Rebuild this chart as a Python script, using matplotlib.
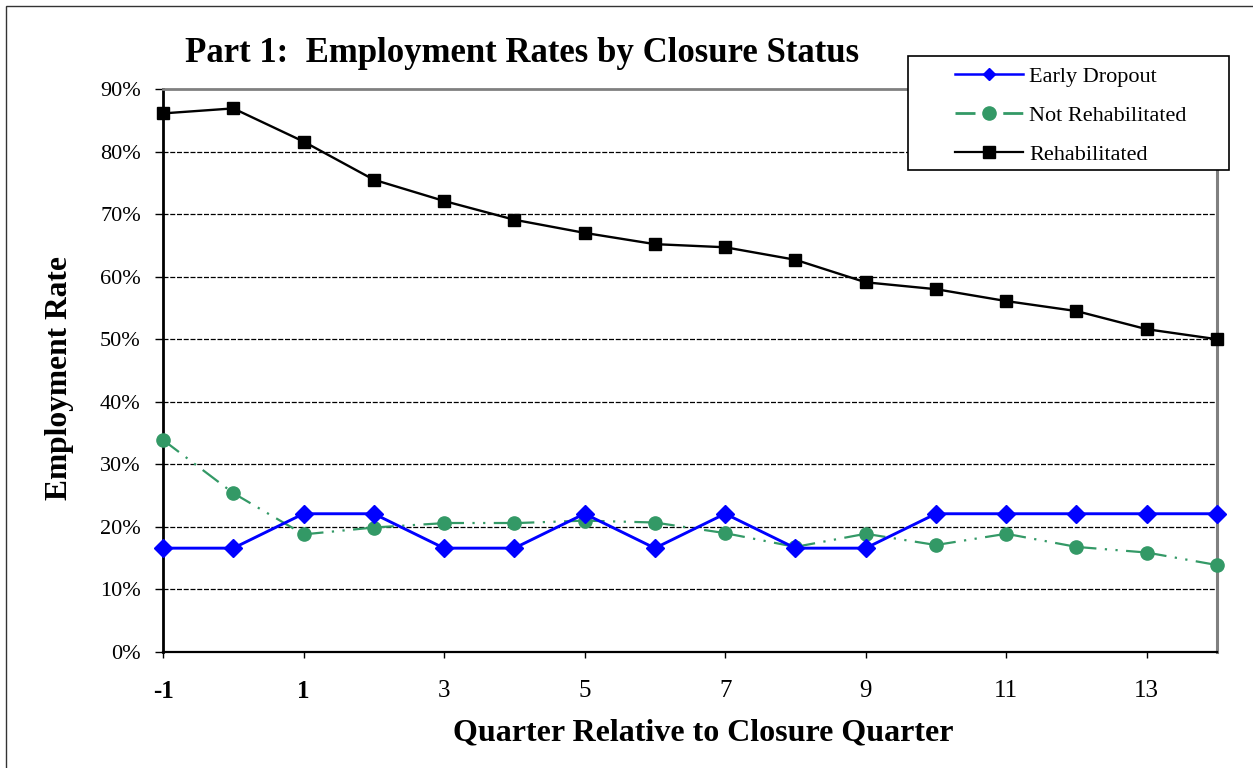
import matplotlib
matplotlib.use('Agg')
import matplotlib.pyplot as plt
from matplotlib.patches import Rectangle
from matplotlib.lines import Line2D

# Data (employment rate, %)
quarters = list(range(-1, 15))
early_dropout = [16.6, 16.6, 22.1, 22.1, 16.6, 16.6, 22.1, 16.6,
                 22.1, 16.6, 16.6, 22.1, 22.1, 22.1, 22.1, 22.1]
not_rehab = [33.9, 25.4, 18.8, 19.9, 20.6, 20.6, 21.0, 20.7,
             19.0, 16.8, 18.9, 17.1, 18.9, 16.8, 15.9, 13.9]
rehab = [86.1, 86.9, 81.6, 75.5, 72.1, 69.1, 67.0, 65.2,
         64.7, 62.7, 59.1, 58.0, 56.1, 54.5, 51.6, 50.0]
series_names = ['Early Dropout', 'Not Rehabilitated', 'Rehabilitated']
xtick_vals = [-1, 1, 3, 5, 7, 9, 11, 13]
ytick_vals = [0, 10, 20, 30, 40, 50, 60, 70, 80, 90]

plt.rcParams['font.family'] = ['Liberation Serif', 'DejaVu Serif']

W, H = 1253, 768
fig = plt.figure(figsize=(W / 100, H / 100), dpi=100)
ax = fig.add_axes([163 / W, 116 / H, (1217 - 163) / W, (652 - 89) / H])

blue = '#0000FF'
green = '#339966'

ax.plot(quarters, early_dropout, color=blue, lw=2.1, marker='D', ms=9,
        clip_on=False, zorder=4)

# Excel restarts the dash pattern on every segment, so draw them one by one
nr_dash = (9, 3.8, 1, 3.8, 1, 3.8)
for i in range(len(quarters) - 1):
    ax.plot(quarters[i:i + 2], not_rehab[i:i + 2], color=green, lw=1.6,
            dashes=nr_dash, clip_on=False, zorder=3)
ax.plot(quarters, not_rehab, color=green, lw=0, marker='o', ms=9.5,
        clip_on=False, zorder=3.5)

ax.plot(quarters, rehab, color='black', lw=1.7, marker='s', ms=8.5,
        clip_on=False, zorder=4)

ax.set_xlim(-1, 14)
ax.set_ylim(0, 90)
ax.set_xticks(xtick_vals)
ax.set_xticklabels([str(v) for v in xtick_vals], fontsize=18)
for lab in ax.get_xticklabels()[:2]:
    lab.set_fontweight('bold')
ax.set_yticks(ytick_vals)
ax.set_yticklabels([f'{v}%' for v in ytick_vals], fontsize=16)
ax.tick_params(axis='y', direction='out', length=6, width=1, pad=10)
ax.tick_params(axis='x', direction='out', length=4.5, width=1, pad=16)

for v in ytick_vals[1:-1]:
    ax.axhline(v, color='black', lw=0.9, linestyle=(0, (4, 1.4)), zorder=1)

ax.spines['left'].set_linewidth(2)
ax.spines['bottom'].set_linewidth(1.6)
ax.spines['top'].set_color('#808080')
ax.spines['top'].set_linewidth(2)
ax.spines['right'].set_color('#808080')
ax.spines['right'].set_linewidth(2.2)

# Titles
fig.text(185 / W, 1 - 62 / H, 'Part 1:  Employment Rates by Closure Status',
         fontsize=25, fontweight='bold', ha='left', va='baseline')
fig.text(703 / W, 1 - 740 / H, 'Quarter Relative to Closure Quarter',
         fontsize=23, fontweight='bold', ha='center', va='baseline')
fig.text(60 / W, 1 - 378 / H, 'Employment Rate', fontsize=22.7,
         fontweight='bold', rotation=90, ha='center', va='center')

# Legend box
fig.patches.append(Rectangle((908 / W, 1 - 170 / H), (1229 - 908) / W, 114 / H,
                             transform=fig.transFigure, facecolor='white',
                             edgecolor='black', lw=1.2, zorder=5))
handles = [
    Line2D([], [], color=blue, lw=1.8, marker='D', ms=6),
    Line2D([], [], color=green, lw=2, dashes=(7.2, 10), marker='o', ms=9.5),
    Line2D([], [], color='black', lw=1.6, marker='s', ms=9),
]
leg = fig.legend(handles, series_names, loc='center left',
                 bbox_to_anchor=(955 / W, 1 - 115.5 / H), frameon=False,
                 fontsize=16, handlelength=3.06, handletextpad=0.28,
                 labelspacing=0.82, borderpad=0, borderaxespad=0)
leg.set_zorder(6)

# Outer chart border
fig.patches.append(Rectangle((6 / W, -0.1), 1.2, 1.1 - 6 / H,
                             transform=fig.transFigure, fill=False,
                             edgecolor='#333333', lw=1, zorder=0))

fig.savefig('out.png', dpi=100, facecolor='white')
